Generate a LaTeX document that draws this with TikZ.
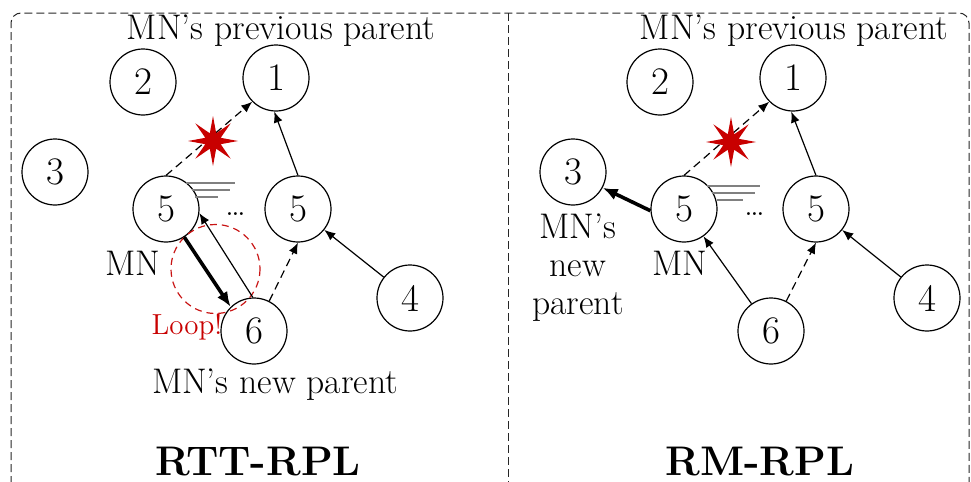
\documentclass[tikz,border=0pt]{standalone}
\usetikzlibrary{arrows.meta,shapes.geometric,calc}
\definecolor{starred}{RGB}{200,0,0}
\definecolor{loopred}{RGB}{200,20,20}
\begin{document}
\begin{tikzpicture}[x=0.5pt,y=-0.5pt,
  nd/.style={circle,draw,line width=0.6pt,minimum size=33pt,inner sep=0pt,font=\fontsize{19.5}{22}\selectfont},
  lbl/.style={font=\fontsize{17.8}{21}\selectfont,inner sep=0pt},
  arr/.style={line width=0.6pt,-{Latex[length=5.5pt,width=4.5pt]}},
  darr/.style={arr,dash pattern=on 4pt off 2.5pt},
  tarr/.style={line width=1.8pt,-{Latex[length=7.5pt,width=6pt]}},
  sig/.style={black!50,line width=0.6pt},
  boom/.style={star,star points=8,star point ratio=3,fill=starred,draw=none,minimum size=25pt,inner sep=0pt},
  ttl/.style={font=\fontsize{20.7}{25}\selectfont\bfseries,inner sep=0pt},
  frame/.style={black!85,line width=0.5pt,dash pattern=on 4pt off 2pt}]
\useasboundingbox (0,0) rectangle (971,482);
% frame
\draw[frame,rounded corners=5pt] (11,520) -- (11,13) -- (969,13) -- (969,520);
\draw[frame] (508,13) -- (508,520);

% ---------------- left panel ----------------
\node[nd] (a1) at (276,78) {1};
\node[nd] (a2) at (143,82) {2};
\node[nd] (a3) at (55,172) {3};
\node[nd] (a5) at (166,209) {5};
\node[nd] (a5b) at (298,209) {5};
\node[nd] (a4) at (410,298) {4};
\node[nd] (a6) at (254,331) {6};

\node[lbl] (aprev) at (281,31) {MN's previous parent};
\node[lbl] (anew) at (275,385) {MN's new parent};
\node[lbl] (amn) at (133,263) {MN};
\node[lbl,font=\fontsize{14.5}{17}\selectfont,text=starred] (aloop) at (187,327) {Loop!};
\node[lbl] (adots) at (236,214) {\ldots};
\node[ttl] (atitle) at (258,462) {RTT-RPL};

\draw[loopred,line width=0.6pt,dash pattern=on 3.5pt off 2.5pt] (215.5,269) circle[radius=44.5];

\draw[darr] (a5.north) -- (a1.225);
\node[boom] (astar) at (213,141) {};
\draw[arr] (a5b.north) -- (a1.-93);
\draw[arr] (a4) -- (a5b);
\draw[darr] (a6.63) -- (a5b.-90);
\draw[tarr] (a5.-57) -- (a6.134);
\draw[arr] (a6.92) -- (a5.-7);

\draw[sig] ([shift={(20,-26)}]a5.center) -- ++(49,0);
\draw[sig] ([shift={(26,-19)}]a5.center) -- ++(38,0);
\draw[sig] ([shift={(29,-12)}]a5.center) -- ++(23,0);

% ---------------- right panel ----------------
\node[nd] (b1) at (793,78) {1};
\node[nd] (b2) at (660,82) {2};
\node[nd] (b3) at (573,172) {3};
\node[nd] (b5) at (684,209) {5};
\node[nd] (b5b) at (816,209) {5};
\node[nd] (b4) at (927,298) {4};
\node[nd] (b6) at (771,331) {6};

\node[lbl] (bprev) at (794,31) {MN's previous parent};
\node[lbl,align=center,font=\fontsize{17.8}{19}\selectfont] (bnew) at (578,268) {MN's\\new\\parent};
\node[lbl] (bmn) at (680,263) {MN};
\node[lbl] (bdots) at (755,214) {\ldots};
\node[ttl] (btitle) at (760,462) {RM-RPL};

\draw[darr] (b5.north) -- (b1.225);
\node[boom] (bstar) at (731,142) {};
\draw[arr] (b5b.north) -- (b1.-93);
\draw[arr] (b4) -- (b5b);
\draw[darr] (b6.63) -- (b5b.-90);
\draw[arr] (b6) -- (b5);
\draw[tarr] (b5.183) -- (b3.-28);

\draw[sig] ([shift={(23,-23)}]b5.center) -- ++(53,0);
\draw[sig] ([shift={(28,-16)}]b5.center) -- ++(43,0);
\draw[sig] ([shift={(33,-9)}]b5.center) -- ++(26,0);
\end{tikzpicture}
\end{document}
